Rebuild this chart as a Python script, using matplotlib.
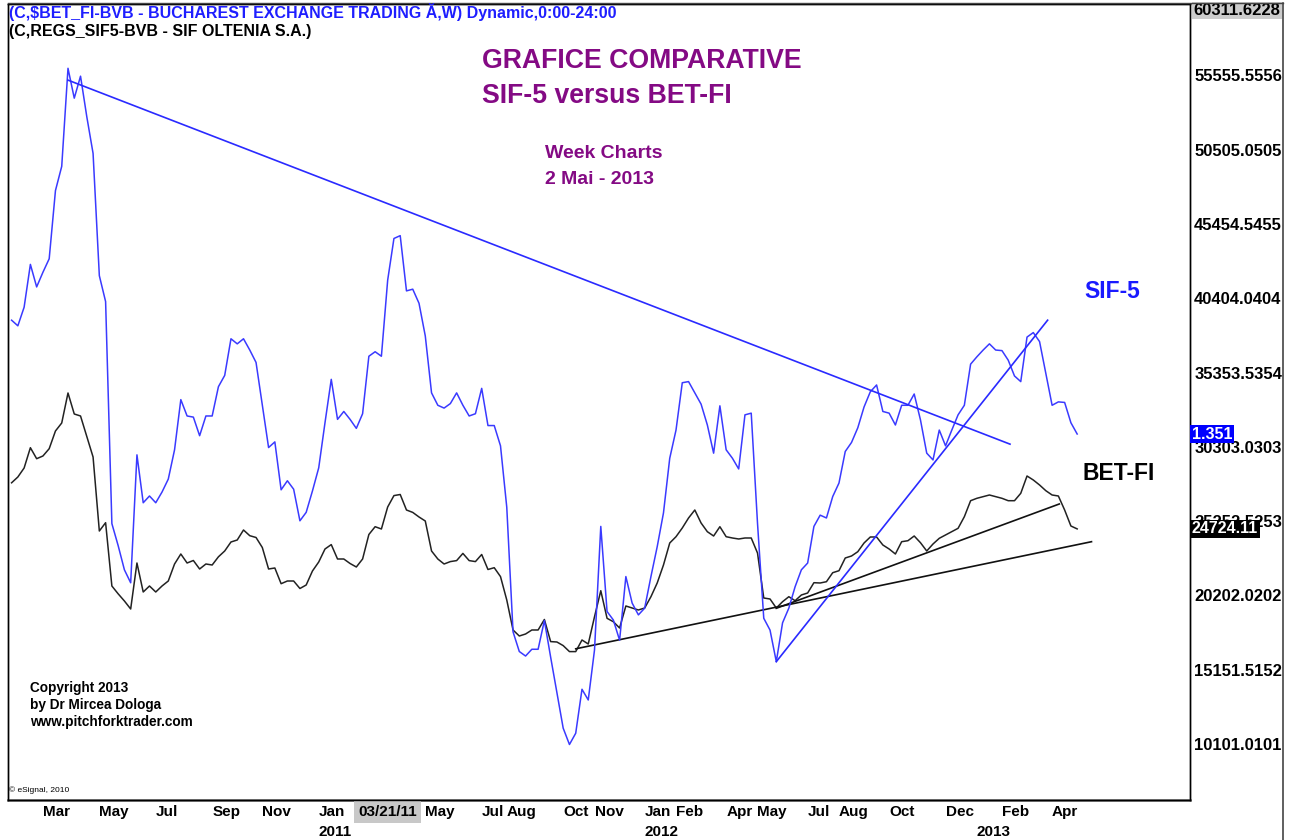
import matplotlib
matplotlib.use('Agg')
import matplotlib.pyplot as plt
import matplotlib.transforms as mtransforms
from matplotlib.lines import Line2D
import pandas as pd

plt.rcParams['font.family'] = ['Liberation Sans', 'DejaVu Sans']

# weekly bars, dated on Mondays
weeks = pd.date_range('2010-01-25', '2013-04-29', freq='7D')

# BET-FI close (index points)
bet_fi = [27859, 28254, 28866, 30246, 29498, 29682, 30178, 31382, 31926, 33966,
          32538, 32402, 31001, 29614, 24582, 25146, 20842, 20311, 19822, 19278,
          22406, 20434, 20842, 20434, 20842, 21182, 22338, 23018, 22406, 22576,
          21998, 22338, 22270, 22827, 23222, 23834, 23970, 24650, 24262, 24140,
          23460, 21998, 22066, 20998, 21182, 21182, 20672, 20910, 21862, 22474,
          23358, 23657, 22678, 22678, 22372, 22134, 22678, 24344, 24874, 24718,
          26214, 26989, 27064, 26010, 25846, 25534, 25262, 23222, 22678, 22338,
          22501, 22569, 23058, 22569, 22501, 22984, 21964, 22086, 21481, 19890,
          17850, 17442, 17578, 17850, 17850, 18564, 17061, 17034, 16789, 16381,
          16381, 17170, 16898, 18754, 20522, 18645, 18414, 17986, 19482, 19346,
          19210, 19346, 20114, 21046, 22270, 23766, 24194, 24786, 25466, 26010,
          25126, 24534, 24242, 24874, 24194, 24106, 24038, 24106, 24106, 23086,
          20026, 19958, 19346, 19774, 20114, 19842, 20230, 20366, 21066, 21046,
          21134, 21746, 21882, 22746, 22882, 23174, 23766, 24174, 24174, 23630,
          23358, 23018, 23854, 23922, 24242, 23786, 23222, 23698, 24085, 24310,
          24534, 24765, 25554, 26642, 26805, 26914, 27030, 26914, 26805, 26642,
          26642, 27145, 28322, 28050, 27710, 27322, 27030, 26962, 26010, 24922,
          24724.11]

# SIF-5 close (RON), overlaid on its own scale
sif5 = [1.553, 1.543, 1.576, 1.652, 1.612, 1.638, 1.662, 1.783, 1.826, 2.000,
        1.947, 1.986, 1.914, 1.849, 1.632, 1.586, 1.192, 1.153, 1.110, 1.087,
        1.314, 1.229, 1.241, 1.229, 1.248, 1.271, 1.323, 1.412, 1.383, 1.381,
        1.348, 1.383, 1.383, 1.435, 1.455, 1.520, 1.511, 1.520, 1.500, 1.478,
        1.402, 1.327, 1.337, 1.252, 1.268, 1.253, 1.197, 1.212, 1.250, 1.291,
        1.371, 1.448, 1.377, 1.391, 1.377, 1.361, 1.387, 1.489, 1.497, 1.489,
        1.624, 1.698, 1.703, 1.605, 1.608, 1.583, 1.525, 1.424, 1.402, 1.397,
        1.405, 1.424, 1.402, 1.383, 1.387, 1.432, 1.366, 1.366, 1.330, 1.221,
        1.000, 0.965, 0.957, 0.969, 0.969, 1.020, 0.955, 0.892, 0.829, 0.800,
        0.820, 0.898, 0.879, 0.968, 1.187, 1.036, 1.021, 0.985, 1.098, 1.051,
        1.030, 1.042, 1.098, 1.151, 1.211, 1.308, 1.358, 1.442, 1.444, 1.424,
        1.404, 1.367, 1.317, 1.401, 1.323, 1.308, 1.289, 1.385, 1.388, 1.193,
        1.024, 1.003, 0.947, 1.016, 1.042, 1.080, 1.110, 1.122, 1.187, 1.207,
        1.202, 1.240, 1.264, 1.320, 1.336, 1.362, 1.399, 1.426, 1.438, 1.391,
        1.388, 1.367, 1.402, 1.402, 1.422, 1.376, 1.317, 1.305, 1.358, 1.330,
        1.358, 1.385, 1.402, 1.475, 1.488, 1.500, 1.511, 1.500, 1.499, 1.482,
        1.454, 1.444, 1.523, 1.531, 1.515, 1.459, 1.402, 1.408, 1.407, 1.371,
        1.351]

# hand drawn trend lines (date, value)
sif5_trend_down = [('2010-03-29', 1.979), ('2013-02-13', 1.333)]
sif5_trend_up = [('2012-05-28', 0.947), ('2013-03-27', 1.553)]
betfi_trend_long = [('2011-10-17', 16571), ('2013-05-15', 23854)]
betfi_trend_short = [('2012-05-28', 19325), ('2013-04-09', 26418)]

betfi_ticks = [10101.0101, 15151.5152, 20202.0202, 25252.5253, 30303.0303,
               35353.5354, 40404.0404, 45454.5455, 50505.0505, 55555.5556]
scale_top = '60311.6228'

month_labels = [('Mar', '2010-03'), ('May', '2010-05'), ('Jul', '2010-07'),
                ('Sep', '2010-09'), ('Nov', '2010-11'), ('Jan', '2011-01'),
                ('May', '2011-05'), ('Jul', '2011-07'), ('Aug', '2011-08'),
                ('Oct', '2011-10'), ('Nov', '2011-11'), ('Jan', '2012-01'),
                ('Feb', '2012-02'), ('Apr', '2012-04'), ('May', '2012-05'),
                ('Jul', '2012-07'), ('Aug', '2012-08'), ('Oct', '2012-10'),
                ('Dec', '2012-12'), ('Feb', '2013-02'), ('Apr', '2013-04')]
year_labels = [('2011', '2011-01'), ('2012', '2012-01'), ('2013', '2013-01')]
cursor_label = ('03/21/11', '2011-03-21')

W, H = 1289, 840
BLUE = '#3a3aff'
PURPLE = '#840a84'

fig = plt.figure(figsize=(W / 100, H / 100), dpi=100)
fig.patch.set_facecolor('white')

ax = fig.add_axes([8 / W, 40 / H, 1182 / W, 796 / H])
ax2 = ax.twinx()

ax.plot(weeks, bet_fi, color='#222222', lw=1.1)
ax2.plot(weeks, sif5, color=BLUE, lw=1.1)

for tl, a, c in [(sif5_trend_down, ax2, '#2a2aff'), (sif5_trend_up, ax2, '#2a2aff'),
                 (betfi_trend_long, ax, '#111111'), (betfi_trend_short, ax, '#111111')]:
    a.plot(pd.to_datetime([d for d, v in tl]), [v for d, v in tl], color=c, lw=1.2)

ax.set_xlim(pd.Timestamp('2010-01-21'), pd.Timestamp('2013-09-02'))
ax.set_ylim(6290, 60417)
ax2.set_ylim(0.7015, 2.1141)

ax.set_xticks([])
ax.yaxis.tick_right()
ax.set_yticks(betfi_ticks)
ax.set_yticklabels(['%.4f' % t for t in betfi_ticks], fontsize=12, fontweight='bold')
ax.tick_params(axis='y', length=0, pad=3)
ax2.set_yticks([])
for a in (ax, ax2):
    for s in a.spines.values():
        s.set_color('black')
        s.set_linewidth(1.0)
ax.spines['bottom'].set_linewidth(1.8)
ax.spines['bottom'].set_color('#555555')

# right scale panel frame
fig.add_artist(Line2D([1283 / W, 1283 / W], [0, 1 - 3 / H], color='#444444', lw=1.2))
fig.add_artist(Line2D([8 / W, 1283 / W], [1 - 3 / H, 1 - 3 / H], color='#444444', lw=1.0))

# value tags on the scale
tr_sif = mtransforms.blended_transform_factory(ax2.transAxes, ax2.transData)
tr_bet = mtransforms.blended_transform_factory(ax2.transAxes, ax.transData)
ax2.text(1.0015, sif5[-1], '%.3f' % sif5[-1], transform=tr_sif, ha='left', va='center',
         color='white', fontsize=11.5, fontweight='bold', clip_on=False, zorder=10,
         bbox=dict(facecolor='#0000ff', edgecolor='none', pad=1.2))
ax2.text(1.0015, bet_fi[-1], '%.2f' % bet_fi[-1], transform=tr_bet, ha='left', va='center',
         color='white', fontsize=11.5, fontweight='bold', clip_on=False, zorder=10,
         bbox=dict(facecolor='black', edgecolor='none', pad=1.2))
ax2.text(1.003, 0.992, scale_top, transform=ax2.transAxes, ha='left', va='center',
         fontsize=12, fontweight='bold', clip_on=False, zorder=10,
         bbox=dict(facecolor='#cccccc', edgecolor='none', pad=1.0))

# date axis labels
trx = mtransforms.blended_transform_factory(ax.transData, ax.transAxes)
for name, ym in month_labels:
    d = weeks[weeks >= pd.Timestamp(ym + '-01')][0]
    ax.text(d, -12 / 796, name, transform=trx, ha='left', va='center',
            fontsize=11, fontweight='bold', clip_on=False)
for name, ym in year_labels:
    d = weeks[weeks >= pd.Timestamp(ym + '-01')][0]
    ax.text(d, -32 / 796, name, transform=trx, ha='left', va='center',
            fontsize=11, fontweight='bold', clip_on=False)
ax.text(pd.Timestamp(cursor_label[1]), -12 / 796, cursor_label[0], transform=trx,
        ha='center', va='center', fontsize=11, fontweight='bold', clip_on=False,
        bbox=dict(facecolor='#c8c8c8', edgecolor='none', pad=3))


def ftext(x, y, s, **kw):
    fig.text(x / W, 1 - y / H, s, **kw)


ftext(9, 3, '(C,$BET_FI-BVB - BUCHAREST EXCHANGE TRADING Ă,W) Dynamic,0:00-24:00',
      color='#1e1eff', fontsize=11.5, fontweight='bold', va='top')
ftext(9, 24, '(C,REGS_SIF5-BVB - SIF OLTENIA S.A.)',
      color='black', fontsize=11.5, fontweight='bold', va='top')

ftext(482, 61, 'GRAFICE COMPARATIVE', color=PURPLE, fontsize=19.2, fontweight='bold', va='center')
ftext(482, 96, 'SIF-5 versus BET-FI', color=PURPLE, fontsize=19.2, fontweight='bold', va='center')
ftext(545, 154, 'Week Charts', color=PURPLE, fontsize=14, fontweight='bold', va='center')
ftext(545, 180, '2 Mai - 2013', color=PURPLE, fontsize=14, fontweight='bold', va='center')

ftext(1084, 291, 'SIF-5', color='#1a1aff', fontsize=16.5, fontweight='bold', va='center')
ftext(1083, 474, 'BET-FI', color='black', fontsize=16.5, fontweight='bold', va='center')

ftext(30, 688, 'Copyright 2013', fontsize=9.8, fontweight='bold', va='center')
ftext(30, 705, 'by Dr Mircea Dologa', fontsize=9.8, fontweight='bold', va='center')
ftext(30, 722, 'www.pitchforktrader.com', fontsize=9.8, fontweight='bold', va='center')
ftext(9, 790, '© eSignal, 2010', fontsize=6, va='center')

fig.savefig('out.png', dpi=100)
